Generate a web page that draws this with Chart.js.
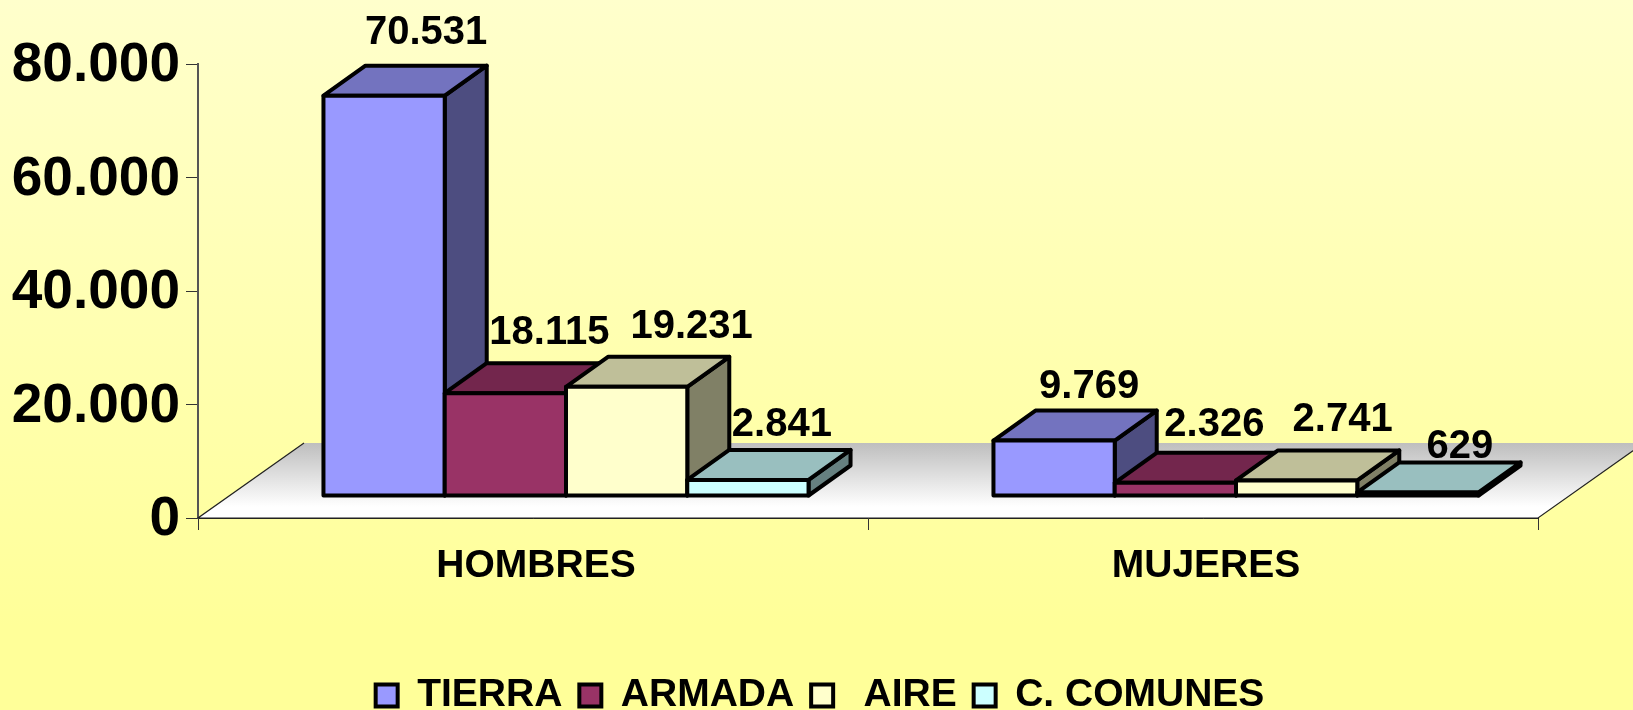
<!DOCTYPE html>
<html>
<head>
<meta charset="utf-8">
<title>Efectivos</title>
<script src="https://cdn.jsdelivr.net/npm/chart.js@4"></script>
<style>
    html, body { margin: 0; padding: 0; overflow: hidden; }
    body { width: 1633px; height: 710px; background: linear-gradient(#FFFFCC 0%, #FFFF99 88%); }
    canvas { display: block; }
</style>
</head>
<body>
<canvas id="chart" width="1633" height="710"></canvas>
<script>
// Chart data
const categories = ['HOMBRES', 'MUJERES'];
const seriesNames = ['TIERRA', 'ARMADA', ' AIRE', 'C. COMUNES'];
const tierra = [70531, 9769];
const armada = [18115, 2326];
const aire = [19231, 2741];
const comunes = [2841, 629];
const yTicks = [0, 20000, 40000, 60000, 80000];

// Colours per series: front, top, side
const fronts = ['#9999FF', '#993366', '#FFFFCC', '#CCFFFF'];
const tops = ['#7373BF', '#73264D', '#BFBF99', '#99BFBF'];
const sides = ['#4D4D80', '#4D1933', '#808066', '#668080'];

// 3D look: how far the bars stand in from the axis corner, and how deep they are
const inset = { x: 33, y: 22 };
const depth = { x: 42, y: 30 };
const floorDepth = { x: 106, y: 75 };

// Hand placement of the value labels, measured from the back top edge of each bar
const labelDx = [[42, 35], [44, 39], [65, 46], [34, 42]];
const labelGap = [[22, 13], [19, 17], [19, 19], [14, 4]];

const fontName = '"Liberation Sans", Arial, sans-serif';

function dotted(value) {
    return String(value).replace(/\B(?=(\d{3})+$)/g, '.');
}

function face(ctx, points, fill) {
    ctx.beginPath();
    points.forEach((p, i) => i ? ctx.lineTo(p[0], p[1]) : ctx.moveTo(p[0], p[1]));
    ctx.closePath();
    ctx.fillStyle = fill;
    ctx.fill();
    ctx.stroke();
}

function drawFloor(chart) {
    const { ctx, chartArea: a } = chart;
    const back = a.bottom - floorDepth.y;
    const grad = ctx.createLinearGradient(0, back, 0, a.bottom);
    grad.addColorStop(0, '#BEBEBE');
    grad.addColorStop(0.85, '#FFFFFF');
    ctx.save();
    ctx.beginPath();
    ctx.moveTo(a.left, a.bottom);
    ctx.lineTo(a.left + floorDepth.x, back);
    ctx.lineTo(a.right + floorDepth.x, back);
    ctx.lineTo(a.right, a.bottom);
    ctx.closePath();
    ctx.fillStyle = grad;
    ctx.fill();
    ctx.beginPath();
    ctx.moveTo(a.left + floorDepth.x, back);
    ctx.lineTo(a.left, a.bottom);
    ctx.lineTo(a.right, a.bottom);
    ctx.lineTo(a.right + floorDepth.x, back);
    ctx.strokeStyle = '#222';
    ctx.lineWidth = 1.2;
    ctx.stroke();
    ctx.restore();
}

function drawSeries(chart, s) {
    const ctx = chart.ctx;
    const meta = chart.getDatasetMeta(s);
    ctx.save();
    ctx.translate(inset.x, -inset.y);
    ctx.strokeStyle = '#000';
    ctx.lineWidth = 4;
    ctx.lineJoin = 'round';
    meta.data.forEach(bar => {
        const l = bar.x - bar.width / 2;
        const r = bar.x + bar.width / 2;
        const t = bar.y;
        const b = bar.base;
        face(ctx, [[r, t], [r + depth.x, t - depth.y], [r + depth.x, b - depth.y], [r, b]], sides[s]);
        face(ctx, [[l, t], [l + depth.x, t - depth.y], [r + depth.x, t - depth.y], [r, t]], tops[s]);
    });
    // the front face comes from the library, its outline goes on top
    meta.controller.draw();
    meta.data.forEach(bar => {
        ctx.strokeRect(bar.x - bar.width / 2, bar.y, bar.width, bar.base - bar.y);
    });
    ctx.restore();
}

function drawValues(chart) {
    const ctx = chart.ctx;
    ctx.save();
    ctx.font = 'bold 40px ' + fontName;
    ctx.fillStyle = '#000';
    ctx.textAlign = 'center';
    ctx.textBaseline = 'alphabetic';
    chart.data.datasets.forEach((ds, s) => {
        chart.getDatasetMeta(s).data.forEach((bar, c) => {
            const x = bar.x + inset.x + labelDx[s][c];
            const y = bar.y - inset.y - depth.y - labelGap[s][c];
            ctx.fillText(dotted(ds.data[c]), x, y);
        });
    });
    ctx.restore();
}

const bars3d = {
    id: 'bars3d',
    afterLayout(chart) {
        // the legend is centred on the page and sits low, not where Chart.js puts it
        chart.legend.left += 51;
        chart.legend.right += 51;
        chart.legend.top += 15;
    },
    beforeDatasetsDraw(chart) {
        drawFloor(chart);
        // left bar first, each one overlaps the side of the bar before it
        chart.data.datasets.forEach((ds, s) => drawSeries(chart, s));
        drawValues(chart);
        return false;
    }
};

function makeDataset(name, values, i) {
    return {
        label: name,
        data: values,
        backgroundColor: fronts[i],
        borderColor: '#000',
        borderWidth: 0
    };
}

new Chart(document.getElementById('chart').getContext('2d'), {
    type: 'bar',
    data: {
        labels: categories,
        datasets: [tierra, armada, aire, comunes].map((v, i) => makeDataset(seriesNames[i], v, i))
    },
    options: {
        responsive: false,
        animation: false,
        layout: { padding: { left: 0, right: 95, top: 64, bottom: 0 } },
        datasets: { bar: { categoryPercentage: 0.724, barPercentage: 1 } },
        scales: {
            x: {
                afterFit(scale) { scale.height = 126; },
                border: { color: '#222', width: 1 },
                grid: { drawOnChartArea: false, tickLength: 12, color: '#333' },
                ticks: {
                    color: '#000',
                    padding: 13,
                    labelOffset: 3,
                    font: { family: fontName, size: 39, weight: 'bold' }
                }
            },
            y: {
                min: 0,
                max: 80000,
                afterFit(scale) { scale.width = 198; },
                afterBuildTicks(scale) { scale.ticks = yTicks.map(v => ({ value: v })); },
                border: { color: '#555', width: 2 },
                grid: { drawOnChartArea: false, tickLength: 12, color: '#333' },
                ticks: {
                    color: '#000',
                    padding: 6,
                    labelOffset: 2,
                    callback: v => dotted(v),
                    font: { family: fontName, size: 55, weight: 'bold' }
                }
            }
        },
        plugins: {
            tooltip: { enabled: false },
            legend: {
                position: 'bottom',
                labels: {
                    color: '#000',
                    boxWidth: 22,
                    boxHeight: 22,
                    padding: 17,
                    font: { family: fontName, size: 39, weight: 'bold' },
                    generateLabels(chart) {
                        return Chart.defaults.plugins.legend.labels.generateLabels(chart).map(item => {
                            item.lineWidth = 4;
                            return item;
                        });
                    }
                }
            }
        }
    },
    plugins: [bars3d]
});
</script>
</body>
</html>
